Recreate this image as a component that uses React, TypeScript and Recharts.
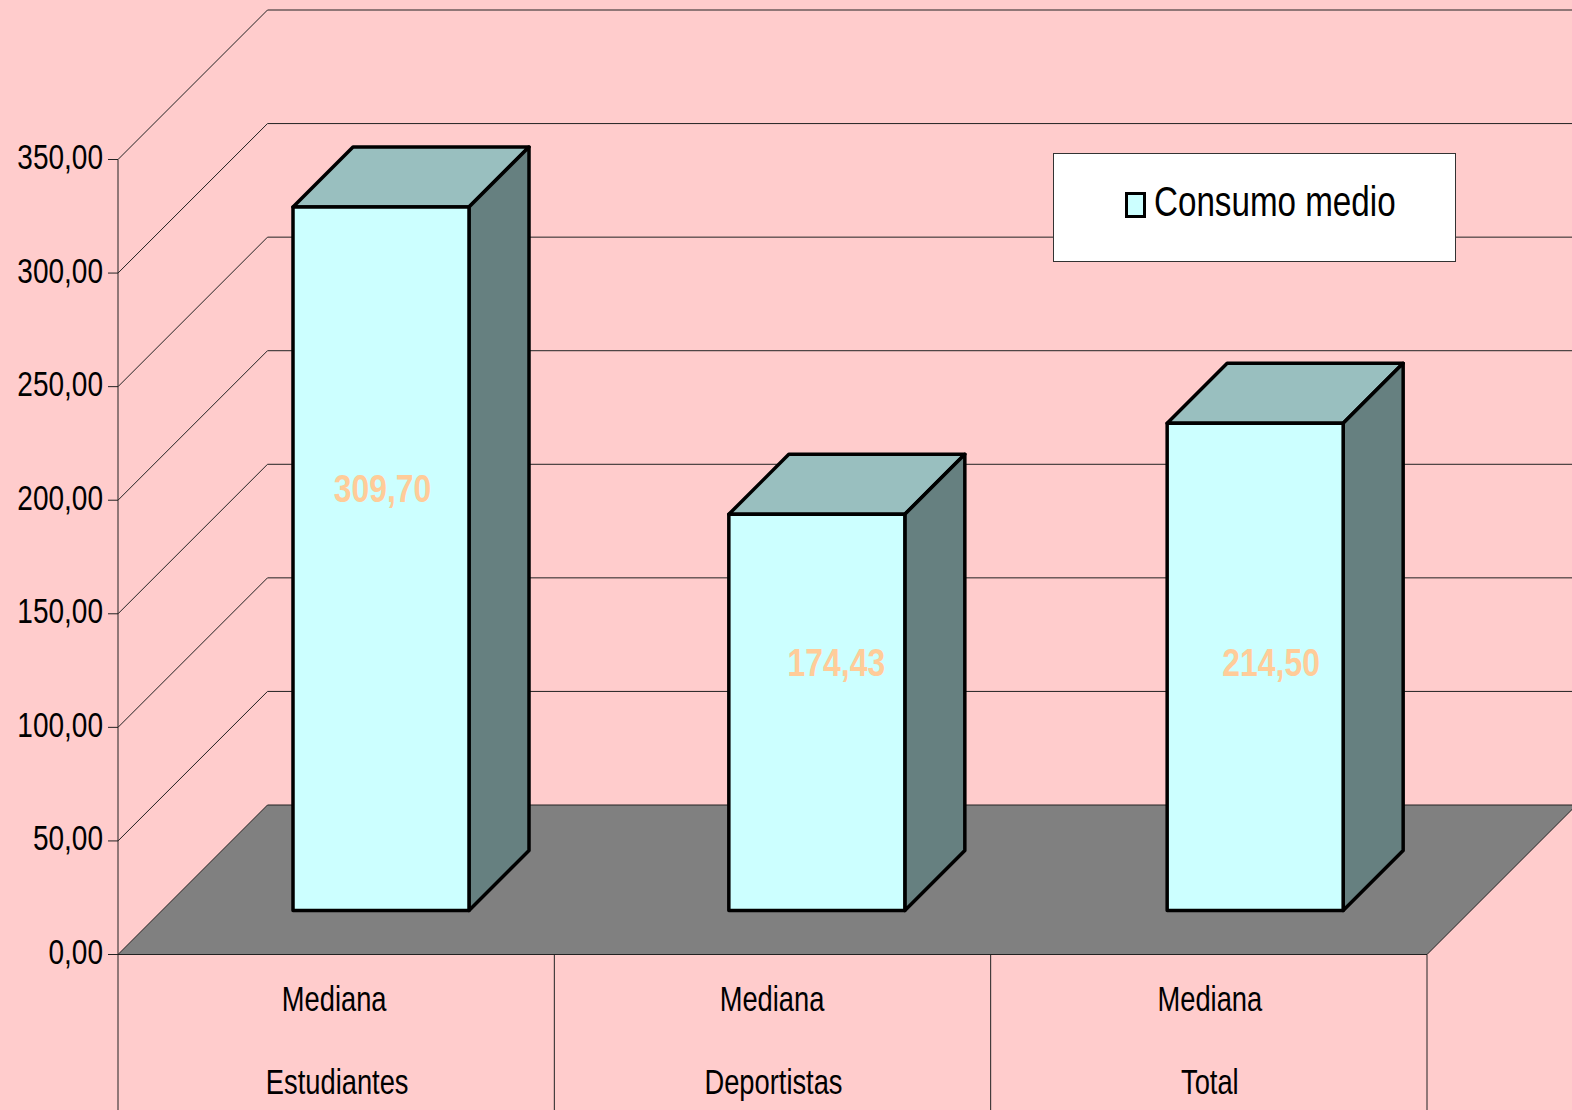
import React from 'react';
import { BarChart, Bar, XAxis, YAxis, Legend, LabelList, CartesianGrid } from 'recharts';

const categories = ['Mediana Estudiantes', 'Mediana Deportistas', 'Mediana Total'];
const consumoMedio = [309.7, 174.43, 214.5];
const yTicks = [0, 50, 100, 150, 200, 250, 300, 350];
const seriesName = 'Consumo medio';

const data = categories.map((name, i) => ({ name, consumo: consumoMedio[i] }));

const WIDTH = 1572;
const HEIGHT = 1110;
const AXIS_W = 118; // left axis position
const PLOT_TOP = 159.5;
const PLOT_BOTTOM = 954.5;
const PLOT_RIGHT = 1427;
const BAND = (PLOT_RIGHT - AXIS_W) / 3;
const WALL_DEPTH = 149.5; // how far the back wall sits from the axis
const BAR_SHIFT_Y = 44; // bars stand in the middle of the floor
const BAR_DEPTH = 60;
const FONT = '"Liberation Sans", Arial, sans-serif';
const LINE = '#222';

// bars and data labels are not quite evenly placed in the original
const barShiftX = [45, 44.5, 46.5];
const labelShifts = [
  { dx: 1.5, dy: -70 },
  { dx: 19, dy: -49.5 },
  { dx: 17.5, dy: -4 },
];

const fmt = (v: number) => v.toFixed(2).replace('.', ',');

// no narrow font is installed, so squeeze the regular one
const NarrowText = ({ x, y, k, anchor = 'middle', children, ...rest }: any) => (
  <text transform={`translate(${x},${y}) scale(${k},1)`} textAnchor={anchor} fontFamily={FONT} {...rest}>
    {children}
  </text>
);

// grid line renderer: back wall line + side wall diagonal, floor at zero
const wallLine = (props: any) => {
  const y = props.y1;
  const x = AXIS_W;
  const backX = x + WALL_DEPTH;
  const backY = y - WALL_DEPTH;
  if (Math.abs(y - PLOT_BOTTOM) < 1) {
    return (
      <polygon
        key={props.key}
        points={`${x},${y} ${PLOT_RIGHT},${y} ${PLOT_RIGHT + WALL_DEPTH},${backY} ${backX},${backY}`}
        fill="#808080"
        stroke={LINE}
        strokeWidth={1}
      />
    );
  }
  return (
    <g key={props.key}>
      <line x1={x} y1={y} x2={backX} y2={backY} stroke={LINE} strokeWidth={1} />
      <line x1={backX} y1={backY} x2={WIDTH} y2={backY} stroke={LINE} strokeWidth={1} />
    </g>
  );
};

const ValueTick = (props: any) => {
  const { x, y, payload } = props;
  return (
    <g>
      {payload.value === 0 && <line x1={x} y1={y} x2={x} y2={HEIGHT} stroke={LINE} strokeWidth={1} />}
      <line x1={x - 10} y1={y} x2={x} y2={y} stroke={LINE} strokeWidth={1} />
      <NarrowText x={x - 15} y={y + 9.5} k={0.8} anchor="end" fontSize={35} fill="#000">
        {fmt(payload.value)}
      </NarrowText>
    </g>
  );
};

const CategoryTick = (props: any) => {
  const { x, y, payload, index } = props;
  const [first, second] = String(payload.value).split(' ');
  const right = x + BAND / 2;
  return (
    <g>
      <line x1={right} y1={y} x2={right} y2={HEIGHT} stroke={LINE} strokeWidth={1} />
      <NarrowText x={x - 2 + index * 1.5} y={y + 56} k={0.78} fontSize={35} fill="#000">
        {first}
      </NarrowText>
      <NarrowText x={x + 1} y={y + 139} k={0.78} fontSize={35} fill="#000">
        {second}
      </NarrowText>
    </g>
  );
};

const Box3D = (props: any) => {
  const { x, y, width, height, fill, index } = props;
  const l = x + barShiftX[index];
  const r = l + width;
  const t = y - BAR_SHIFT_Y;
  const b = t + height;
  const d = BAR_DEPTH;
  return (
    <g stroke="#000" strokeWidth={3.5} strokeLinejoin="round">
      <polygon points={`${l},${t} ${r},${t} ${r + d},${t - d} ${l + d},${t - d}`} fill="#99BFBF" />
      <polygon points={`${r},${t} ${r + d},${t - d} ${r + d},${b - d} ${r},${b}`} fill="#668080" />
      <rect x={l} y={t} width={width} height={height} fill={fill} />
    </g>
  );
};

const ValueLabel = (props: any) => {
  const box = props.viewBox ?? props;
  const shift = labelShifts[props.index] ?? { dx: 0, dy: 0 };
  const cx = box.x + box.width / 2 + 45 + shift.dx;
  const cy = box.y + box.height / 2 - BAR_SHIFT_Y + shift.dy;
  return (
    <NarrowText x={cx} y={cy + 13} k={0.84} fontWeight="bold" fontSize={38} fill="#FFCC99">
      {fmt(Number(props.value))}
    </NarrowText>
  );
};

const LegendBox = (props: any) => {
  const label = props.payload?.[0]?.value ?? seriesName;
  return (
    <div
      style={{
        boxSizing: 'border-box',
        width: 403,
        height: 109,
        background: '#fff',
        border: '1px solid #333',
        position: 'relative',
        fontFamily: FONT,
        fontSize: 42,
        color: '#000',
      }}
    >
      <span
        style={{
          position: 'absolute',
          left: 71,
          top: 38,
          width: 21,
          height: 26,
          boxSizing: 'border-box',
          background: '#CCFFFF',
          border: '3px solid #000',
        }}
      />
      <span
        style={{
          position: 'absolute',
          left: 100,
          top: 25,
          lineHeight: '46px',
          whiteSpace: 'nowrap',
          transform: 'scaleX(0.79)',
          transformOrigin: 'left center',
        }}
      >
        {label}
      </span>
    </div>
  );
};

export default function App() {
  return (
    <div style={{ position: 'absolute', left: 0, top: 0, width: WIDTH, height: HEIGHT, background: '#FFCCCC', overflow: 'hidden' }}>
      <BarChart
        width={WIDTH}
        height={HEIGHT}
        data={data}
        margin={{ top: PLOT_TOP, right: WIDTH - PLOT_RIGHT, bottom: 0, left: 0 }}
        barSize={176}
      >
        <CartesianGrid horizontal={wallLine} vertical={false} />
        <YAxis
          width={AXIS_W}
          domain={[0, 350]}
          ticks={yTicks}
          interval={0}
          tick={ValueTick}
          tickLine={false}
          tickSize={0}
          tickMargin={0}
          axisLine={{ stroke: LINE, strokeWidth: 1 }}
        />
        <XAxis
          dataKey="name"
          height={HEIGHT - PLOT_BOTTOM}
          interval={0}
          tick={CategoryTick}
          tickLine={false}
          tickSize={0}
          tickMargin={0}
          axisLine={false}
        />
        <Legend
          layout="vertical"
          align="center"
          verticalAlign="middle"
          content={LegendBox}
          wrapperStyle={{ left: 1053, top: 153, width: 403, height: 109 }}
        />
        <Bar dataKey="consumo" name={seriesName} fill="#CCFFFF" shape={Box3D} isAnimationActive={false}>
          <LabelList dataKey="consumo" content={ValueLabel} />
        </Bar>
      </BarChart>
    </div>
  );
}
